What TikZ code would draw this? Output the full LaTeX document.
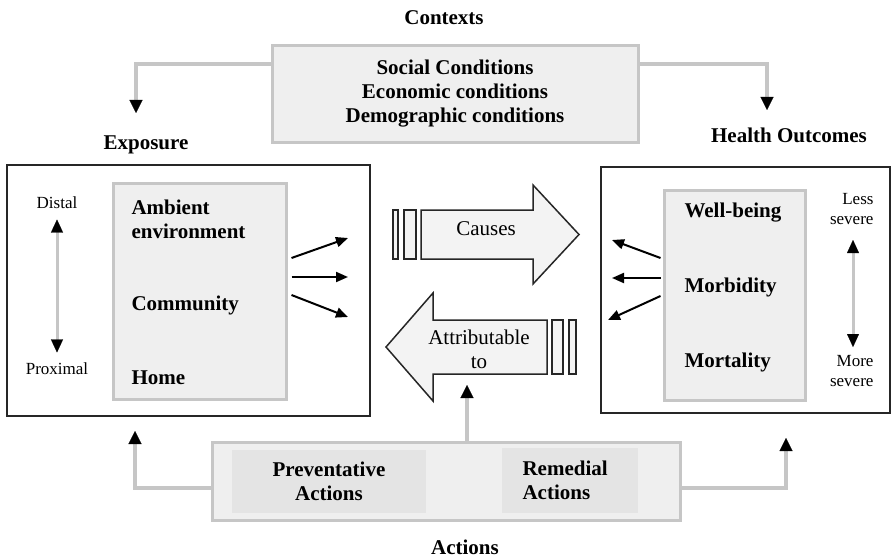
\documentclass[tikz,border=0pt]{standalone}
\usepackage{fontspec}
\setmainfont{Liberation Serif}
\usepackage{xcolor}
\usetikzlibrary{positioning}
\usetikzlibrary{arrows.meta}

\definecolor{panelgray}{HTML}{EFEFEF}
\definecolor{innergray}{HTML}{E4E4E4}
\definecolor{rimgray}{HTML}{C6C6C6}
\definecolor{arrowgray}{HTML}{F3F3F3}

\tikzset{
  heading/.style={font=\fontsize{21}{24}\selectfont\bfseries},
  plaintext/.style={font=\fontsize{21}{24}\selectfont},
  smalltext/.style={font=\fontsize{17}{20}\selectfont},
  graybox/.style={draw=rimgray, line width=3pt, fill=panelgray, inner sep=0pt},
  shadebox/.style={fill=innergray, inner sep=0pt},
  framebox/.style={draw=black!85, line width=1.5pt, fill=white, inner sep=0pt},
  grayline/.style={draw=rimgray, line width=4pt,
    -{Triangle[length=13pt, width=13pt, line width=0.1pt, black]}},
  scaleline/.style={draw=rimgray, line width=3pt,
    {Triangle[length=13pt, width=12pt, line width=0.1pt, black]}-{Triangle[length=13pt, width=12pt, line width=0.1pt, black]}},
  blackarrow/.style={line width=2pt, -{Triangle[length=12pt, width=10pt]}},
  bigarrow/.style={draw=black!85, line width=1.5pt, fill=arrowgray, line join=miter},
}

\begin{document}
\begin{tikzpicture}[x=1pt, y=-1pt]
    \useasboundingbox (0,0) rectangle (896,559);

    % contexts on top
    \node[heading] (ctxlbl) at (444,18) {Contexts};
    \node[graybox, heading, align=center, minimum width=366pt, minimum height=97pt] (ctx) at (455,94)
        {Social Conditions\\Economic conditions\\Demographic conditions};

    % the two column titles
    \node[heading] (expolbl) at (146,145) {Exposure};
    \node[heading] (hlthlbl) at (789,135) {Health Outcomes};

    % context lines down to the titles
    \coordinate (ctxL) at (136,113);
    \coordinate (ctxR) at (767,110);
    \draw[grayline] (ctx.north west) ++(0,20) -| (ctxL);
    \draw[grayline] (ctx.north east) ++(0,20) -| (ctxR);

    % exposure frame
    \node[framebox, minimum width=363pt, minimum height=251pt] (expo) at (188.5,290.5) {};
    \node[graybox, minimum width=173pt, minimum height=216pt] (envbox) at (199.5,291) {};
    \node[heading, anchor=west, align=left] (ambient) at (128,219) {Ambient\\environment};
    \node[heading, anchor=west] (community) at (128,305) {Community};
    \node[heading, anchor=west] (home) at (128,378) {Home};

    % distal to proximal scale
    \node[smalltext] (distal) at (57,203) {Distal};
    \node[smalltext] (proximal) at (57,369) {Proximal};
    \draw[scaleline] ([yshift=-7pt]distal.south) -- ([yshift=7pt]proximal.north);

    % three arrows out of the exposure box
    \coordinate (eout1) at (348,238);
    \coordinate (eout2) at (348,277);
    \coordinate (eout3) at (348,317);
    \draw[blackarrow] ([xshift=4pt, yshift=33pt]envbox.east) -- (eout1);
    \draw[blackarrow] ([xshift=4pt, yshift=14pt]envbox.east) -- (eout2);
    \draw[blackarrow] ([xshift=4pt, yshift=-4pt]envbox.east) -- (eout3);

    % health outcomes frame
    \node[framebox, minimum width=289pt, minimum height=246pt] (hlth) at (745.5,290) {};
    \node[graybox, minimum width=141pt, minimum height=210pt] (outbox) at (734.5,295) {};
    \node[heading, anchor=west] (wellbeing) at (681,213) {Well-being};
    \node[heading, anchor=west] (morbidity) at (681,287) {Morbidity};
    \node[heading, anchor=west] (mortality) at (681,362) {Mortality};

    % less to more severe scale
    \node[smalltext, anchor=east, align=right] (lesssev) at (877,209) {Less\\severe};
    \node[smalltext, anchor=east, align=right] (moresev) at (877,371) {More\\severe};
    \draw[scaleline] (853,240) -- (853,347);

    % three arrows out of the outcomes box
    \coordinate (hout1) at (612,240);
    \coordinate (hout2) at (612,278);
    \coordinate (hout3) at (608,320);
    \draw[blackarrow] ([xshift=-2pt, yshift=37pt]outbox.west) -- (hout1);
    \draw[blackarrow] ([xshift=-2pt, yshift=17pt]outbox.west) -- (hout2);
    \draw[blackarrow] ([xshift=-2pt, yshift=-1pt]outbox.west) -- (hout3);

    % causes arrow
    \draw[bigarrow] (393,210) rectangle (398,259);
    \draw[bigarrow] (404,210) rectangle (416,259);
    \draw[bigarrow] (421,210) -- (533,210) -- (533,185) -- (579,234.5) -- (533,284) -- (533,259) -- (421,259) -- cycle;
    \node[plaintext] (causes) at (486,229) {Causes};

    % attributable to arrow
    \draw[bigarrow] (552,320) rectangle (563,374);
    \draw[bigarrow] (569,320) rectangle (576,374);
    \draw[bigarrow] (547,320) -- (433,320) -- (433,293) -- (386,347) -- (433,401) -- (433,374) -- (547,374) -- cycle;
    \node[plaintext, align=center] (attr) at (479,349) {Attributable\\to};

    % actions at the bottom
    \node[graybox, minimum width=468pt, minimum height=78pt] (acts) at (446,481) {};
    \node[shadebox, minimum width=194pt, minimum height=63pt] (prevbox) at (329,481.5) {};
    \node[shadebox, minimum width=136pt, minimum height=65pt] (remebox) at (570,480.5) {};
    \node[heading, align=center] (prevent) at (prevbox) {Preventative\\Actions};
    \node[heading, align=left, anchor=west] (remedy) at (519,480) {Remedial\\Actions};
    \node[heading] (actlbl) at (465,547) {Actions};

    % action lines up to the frames
    \coordinate (actL) at (135,431);
    \coordinate (actR) at (786,438);
    \coordinate (actM) at (467,385);
    \draw[grayline] ([yshift=-7pt]acts.west) -| (actL);
    \draw[grayline] ([yshift=-7pt]acts.east) -| (actR);
    \draw[grayline] (acts.north -| actM) -- (actM);

  \end{tikzpicture}
\end{document}
